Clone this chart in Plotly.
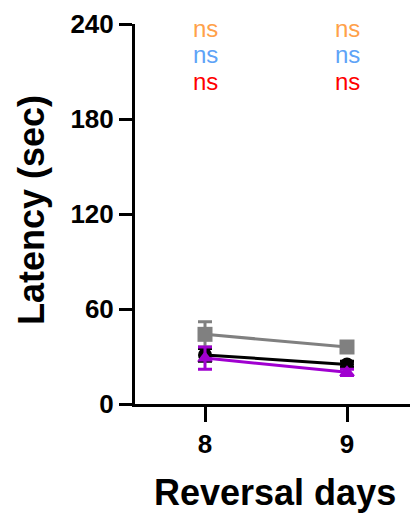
import plotly.graph_objects as go

days = [8, 9]
gray_vals = [44, 36]
gray_err = [8, 3]
black_vals = [31, 25]
black_err = [4, 2]
purple_vals = [29, 20]
purple_err = [7, 2]
y_ticks = [0, 60, 120, 180, 240]
ns_labels = ["ns", "ns", "ns"]
ns_colors = ["#FFA14A", "#5EA3F7", "#FF0000"]
x_title = "Reversal days"
y_title = "Latency (sec)"

FONT = "Liberation Sans, Arial"
fig = go.Figure()

def add(vals, errs, color, symbol, size):
    fig.add_trace(go.Scatter(
        x=days, y=vals, mode="lines+markers",
        line=dict(color=color, width=3),
        marker=dict(color=color, symbol=symbol, size=size),
        error_y=dict(type="data", array=errs, color=color, thickness=3, width=7),
        showlegend=False, cliponaxis=False))

add(gray_vals, gray_err, "#808080", "square", 15)
add(black_vals, black_err, "#000000", "circle", 14)
add(purple_vals, purple_err, "#A000D0", "triangle-up", 14)

for d in days:
    for i, (lab, col) in enumerate(zip(ns_labels, ns_colors)):
        fig.add_annotation(x=d, y=1, xref="x", yref="paper", yshift=-4 - 26.5 * i,
                           text=lab, showarrow=False,
                           font=dict(family=FONT, size=24, color=col),
                           yanchor="middle")

fig.add_annotation(x=0.495, y=0, xref="paper", yref="paper", yshift=-88,
                   text=f"<b>{x_title}</b>", showarrow=False, yanchor="middle",
                   font=dict(family=FONT, size=36, color="black"))
fig.add_annotation(x=0, y=(396 - 202) / 380, xref="paper", yref="paper", xshift=-104,
                   text=f"<b>{y_title}</b>", showarrow=False, textangle=-90,
                   xanchor="center", yanchor="middle",
                   font=dict(family=FONT, size=36, color="black"))

fig.update_layout(
    width=410, height=505,
    margin=dict(l=127, r=0, t=16, b=109),
    plot_bgcolor="white", paper_bgcolor="white",
    font=dict(family=FONT, color="black"),
)
fig.update_xaxes(
    range=[7.507, 9.5], tickvals=days, ticktext=[str(d) for d in days],
    showline=True, linecolor="black", linewidth=3, showgrid=False, zeroline=False,
    ticks="outside", ticklen=15, tickwidth=3, tickcolor="black", automargin=False,
    tickfont=dict(size=26, family=FONT, weight="bold"),
)
fig.update_yaxes(
    range=[0, 240], tickvals=y_ticks,
    showline=True, linecolor="black", linewidth=3, showgrid=False, zeroline=False,
    ticks="outside", ticklen=13, tickwidth=3, tickcolor="black", automargin=False,
    ticklabeloverflow="allow",
    tickfont=dict(size=26, family=FONT, weight="bold"),
)

fig.write_html("out.html")
